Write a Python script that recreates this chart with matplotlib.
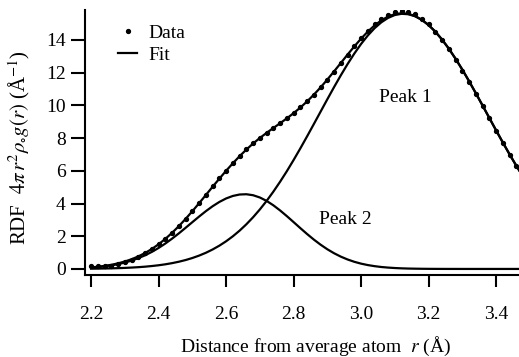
import matplotlib
matplotlib.use("Agg")
import matplotlib.pyplot as plt

plt.rcParams['font.family'] = ['Liberation Serif', 'DejaVu Serif']
plt.rcParams['mathtext.fontset'] = 'stix'

# distance grid (Angstrom)
r = [2.20, 2.22, 2.24, 2.26, 2.28, 2.30, 2.32, 2.34, 2.36, 2.38,
     2.40, 2.42, 2.44, 2.46, 2.48, 2.50, 2.52, 2.54, 2.56, 2.58,
     2.60, 2.62, 2.64, 2.66, 2.68, 2.70, 2.72, 2.74, 2.76, 2.78,
     2.80, 2.82, 2.84, 2.86, 2.88, 2.90, 2.92, 2.94, 2.96, 2.98,
     3.00, 3.02, 3.04, 3.06, 3.08, 3.10, 3.12, 3.14, 3.16, 3.18,
     3.20, 3.22, 3.24, 3.26, 3.28, 3.30, 3.32, 3.34, 3.36, 3.38,
     3.40, 3.42, 3.44, 3.46, 3.48]

peak1 = [0.016, 0.021, 0.028, 0.037, 0.049, 0.064, 0.084, 0.108, 0.139, 0.178,
         0.225, 0.283, 0.355, 0.441, 0.544, 0.668, 0.815, 0.987, 1.189, 1.422,
         1.690, 1.995, 2.340, 2.728, 3.159, 3.635, 4.156, 4.722, 5.329, 5.973,
         6.657, 7.368, 8.103, 8.855, 9.613, 10.371, 11.117, 11.837, 12.524, 13.166,
         13.753, 14.272, 14.717, 15.077, 15.347, 15.522, 15.597, 15.572, 15.447, 15.224,
         14.909, 14.505, 14.021, 13.468, 12.851, 12.187, 11.480, 10.745, 9.993, 9.234,
         8.477, 7.733, 7.008, 6.310, 5.646]

peak2 = [0.080, 0.113, 0.158, 0.217, 0.293, 0.390, 0.510, 0.658, 0.835, 1.043,
         1.283, 1.554, 1.853, 2.174, 2.513, 2.859, 3.201, 3.530, 3.832, 4.094,
         4.308, 4.462, 4.550, 4.567, 4.507, 4.369, 4.161, 3.892, 3.577, 3.230,
         2.865, 2.496, 2.136, 1.796, 1.484, 1.204, 0.960, 0.752, 0.579, 0.437,
         0.324, 0.237, 0.170, 0.119, 0.083, 0.056, 0.037, 0.024, 0.016, 0.010,
         0.006, 0.004, 0.002, 0.001, 0.001, 0.0, 0.0, 0.0, 0.0, 0.0,
         0.0, 0.0, 0.0, 0.0, 0.0]

fit = [0.096, 0.134, 0.186, 0.254, 0.342, 0.454, 0.594, 0.766, 0.974, 1.221,
       1.508, 1.837, 2.208, 2.615, 3.057, 3.527, 4.016, 4.517, 5.021, 5.516,
       5.998, 6.457, 6.890, 7.295, 7.666, 8.004, 8.317, 8.614, 8.906, 9.203,
       9.522, 9.864, 10.239, 10.651, 11.097, 11.575, 12.077, 12.589, 13.103, 13.603,
       14.077, 14.509, 14.887, 15.196, 15.430, 15.578, 15.634, 15.596, 15.463, 15.234,
       14.915, 14.509, 14.023, 13.469, 12.852, 12.187, 11.480, 10.745, 9.993, 9.234,
       8.477, 7.733, 7.008, 6.310, 5.646]

data_r = r[:-1]
data_y = [0.20, 0.16, 0.18, 0.21, 0.29, 0.42, 0.57, 0.76, 0.98, 1.24,
          1.52, 1.86, 2.22, 2.64, 3.07, 3.55, 4.03, 4.53, 5.04, 5.53,
          6.01, 6.47, 6.90, 7.31, 7.67, 8.02, 8.33, 8.62, 8.92, 9.22,
          9.52, 9.87, 10.25, 10.66, 11.10, 11.58, 12.06, 12.57, 13.09, 13.60,
          14.09, 14.55, 14.97, 15.30, 15.55, 15.70, 15.74, 15.70, 15.56, 15.30,
          14.95, 14.50, 13.98, 13.42, 12.80, 12.13, 11.42, 10.70, 9.95, 9.20,
          8.45, 7.71, 6.99, 6.30]

x_ticks = [2.2, 2.4, 2.6, 2.8, 3.0, 3.2, 3.4]
y_ticks = [0, 2, 4, 6, 8, 10, 12, 14]

fig = plt.figure(figsize=(5.19, 3.57), dpi=100)
ax = fig.add_axes([0.1638, 0.2297, 0.8362, 0.7423])

ax.plot(r, peak1, color='black', linewidth=1.6)
ax.plot(r, peak2, color='black', linewidth=1.6)
ax.plot(r, fit, color='black', linewidth=1.6, label='Fit')
ax.plot(data_r, data_y, 'o', color='black', markersize=2.8, label='Data')

ax.set_xlim(2.182, 3.468)
ax.set_ylim(-0.37, 15.83)
ax.set_xticks(x_ticks)
ax.set_xticklabels([f"{v:.1f}" for v in x_ticks])
ax.set_yticks(y_ticks)

for side in ['top', 'right']:
    ax.spines[side].set_visible(False)
for side in ['left', 'bottom']:
    ax.spines[side].set_linewidth(1.5)

ax.tick_params(axis='both', labelsize=14, width=1.5, direction='out')
ax.tick_params(axis='y', length=10, pad=4)
ax.tick_params(axis='x', length=8.5, pad=13.5)

ax.set_xlabel(r'Distance from average atom  $r$ (Å)', fontsize=14)
ax.xaxis.set_label_coords(0.53, -0.225)
ax.set_ylabel(r'RDF  $4\pi\, r^2 \rho_{\circ} g(r)$ (Å$^{-1}$)', fontsize=15)
ax.yaxis.set_label_coords(-0.123, 0.48)

ax.text(3.13, 10.5, 'Peak 1', fontsize=14, ha='center', va='center')
ax.text(2.953, 3.0, 'Peak 2', fontsize=14, ha='center', va='center')

handles, labels = ax.get_legend_handles_labels()
ax.legend(handles[::-1], labels[::-1], loc='upper left',
          bbox_to_anchor=(118 / 519, 1 - 24 / 357), bbox_transform=fig.transFigure,
          frameon=False, fontsize=14, handlelength=1.0, handletextpad=0.55,
          labelspacing=0.22, borderpad=0, borderaxespad=0)

fig.savefig('out.png', dpi=100)
